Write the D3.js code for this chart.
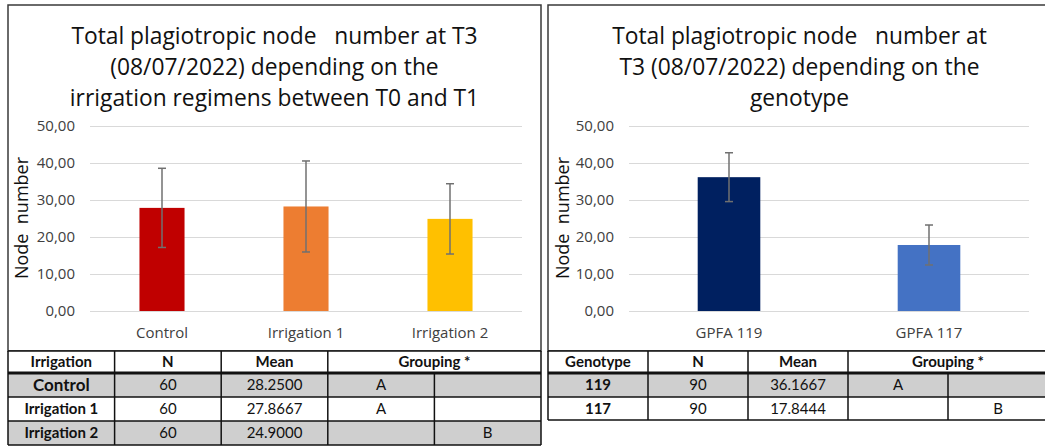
<!DOCTYPE html>
<html><head><meta charset="utf-8">
<script src="https://cdn.jsdelivr.net/npm/d3@7"></script>
<style>
html,body{margin:0;padding:0;background:#fff;}
svg text{white-space:pre;}
</style></head>
<body><svg id="c" width="1045" height="446"></svg>
<script>
// ---- DATA ----
const irrTitle = ["Total plagiotropic node   number at T3", "(08/07/2022) depending on the", "irrigation regimens between T0 and T1"];
const irrCategories = ["Control", "Irrigation 1", "Irrigation 2"];
const irrMeans = [27.87, 28.25, 24.90];
const irrErrors = [10.7, 12.3, 9.5];
const irrColors = ["#C00000", "#ED7D31", "#FFC000"];

const genoTitle = ["Total plagiotropic node   number at", "T3 (08/07/2022) depending on the", "genotype"];
const genoCategories = ["GPFA 119", "GPFA 117"];
const genoMeans = [36.17, 17.84];
const genoErrors = [6.6, 5.4];
const genoColors = ["#002060", "#4472C4"];

const yTicks = [0, 10, 20, 30, 40, 50];
const yAxisTitle = "Node  number";

const irrTableHeader = ["Irrigation", "N", "Mean", "Grouping *"];
const irrTableLabels = ["Control", "Irrigation 1", "Irrigation 2"];
const irrTableN = ["60", "60", "60"];
const irrTableMean = ["28.2500", "27.8667", "24.9000"];
const irrTableGroupA = ["A", "A", ""];
const irrTableGroupB = ["", "", "B"];

const genoTableHeader = ["Genotype", "N", "Mean", "Grouping *"];
const genoTableLabels = ["119", "117"];
const genoTableN = ["90", "90"];
const genoTableMean = ["36.1667", "17.8444"];
const genoTableGroupA = ["A", ""];
const genoTableGroupB = ["", "B"];

// ---- DRAW ----
const svg = d3.select("#c");
const chartFont = "'Open Sans', 'Noto Sans', sans-serif";
const tableFont = "Lato, 'Liberation Sans', sans-serif";
const fmt = v => d3.format(".2f")(v).replace(".", ",");

function chart(o) {
  const g = svg.append("g");
  g.append("rect").attr("x", o.fx0).attr("y", 5).attr("width", o.fx1 - o.fx0).attr("height", 346)
    .attr("fill", "#fff").attr("stroke", "#3a3a3a").attr("stroke-width", 1.5);
  const tcx = (o.fx0 + o.fx1) / 2;
  o.title.forEach((t, i) => {
    g.append("text").attr("x", tcx).attr("y", 44 + i * 31).attr("text-anchor", "middle")
      .attr("font-family", chartFont).attr("font-size", 22.8).attr("fill", "#111").text(t);
  });
  const y = d3.scaleLinear().domain([0, 50]).range([311, 126]);
  const x = d3.scaleBand().domain(o.cats).range([o.px0, o.px1]).paddingInner(0.687).paddingOuter(0.3435);
  // gridlines
  const yAx = d3.axisLeft(y).tickValues(yTicks).tickSize(-(o.px1 - o.px0)).tickPadding(15).tickFormat(fmt);
  const ag = g.append("g").attr("transform", `translate(${o.px0},0)`).call(yAx);
  ag.select(".domain").remove();
  ag.selectAll(".tick line").attr("stroke", "#d9d9d9").attr("stroke-width", 1);
  ag.selectAll(".tick text").attr("font-family", chartFont).attr("font-size", 15).attr("fill", "#404040");
  // bars
  g.selectAll(".bar").data(o.cats).join("rect")
    .attr("x", d => x(d)).attr("width", x.bandwidth())
    .attr("y", (d, i) => y(o.means[i])).attr("height", (d, i) => y(0) - y(o.means[i]))
    .attr("fill", (d, i) => o.colors[i]);
  // error bars
  o.cats.forEach((c, i) => {
    const cx = x(c) + x.bandwidth() / 2;
    const top = y(o.means[i] + o.errs[i]), bot = y(o.means[i] - o.errs[i]);
    const eg = g.append("g").attr("stroke", "#707070").attr("stroke-width", 1.5);
    eg.append("line").attr("x1", cx).attr("x2", cx).attr("y1", top).attr("y2", bot);
    eg.append("line").attr("x1", cx - 4).attr("x2", cx + 4).attr("y1", top).attr("y2", top);
    eg.append("line").attr("x1", cx - 4).attr("x2", cx + 4).attr("y1", bot).attr("y2", bot);
  });
  // x labels
  const xAx = d3.axisBottom(x).tickSize(0).tickPadding(0);
  const xg = g.append("g").attr("transform", `translate(0,311)`).call(xAx);
  xg.select(".domain").remove();
  xg.selectAll(".tick text").attr("dy", null).attr("y", 27).attr("font-family", chartFont)
    .attr("font-size", 15).attr("fill", "#404040");
  // y title
  g.append("text").attr("transform", `translate(${o.ytx},218) rotate(-90)`).attr("text-anchor", "middle")
    .attr("font-family", chartFont).attr("font-size", 18).attr("fill", "#111").text(yAxisTitle);
}

chart({fx0: 8, fx1: 541, px0: 90, px1: 522, ytx: 28, title: irrTitle, cats: irrCategories,
  means: irrMeans, errs: irrErrors, colors: irrColors});
chart({fx0: 548, fx1: 1051, px0: 629, px1: 1029, ytx: 569, title: genoTitle, cats: genoCategories,
  means: genoMeans, errs: genoErrors, colors: genoColors});

function table(o) {
  const g = svg.append("g");
  const cw = (o.x1 - o.x0) / 5;
  const cols = d3.range(6).map(i => o.x0 + i * cw);
  const rowsY = o.rowsY;
  // fills
  o.labels.forEach((l, i) => {
    g.append("rect").attr("x", o.x0).attr("y", rowsY[i + 1]).attr("width", o.x1 - o.x0)
      .attr("height", rowsY[i + 2] - rowsY[i + 1]).attr("fill", i % 2 === 0 ? "#cfcfcf" : "#fff");
  });
  g.append("rect").attr("x", o.x0).attr("y", rowsY[0]).attr("width", o.x1 - o.x0)
    .attr("height", rowsY[1] - rowsY[0]).attr("fill", "#fff");
  // lines
  rowsY.forEach((yy, i) => {
    g.append("line").attr("x1", o.x0).attr("x2", o.x1).attr("y1", yy).attr("y2", yy)
      .attr("stroke", "#111").attr("stroke-width", i === 1 ? 3 : 1.5);
  });
  cols.forEach((xx, i) => {
    g.append("line").attr("x1", xx).attr("x2", xx).attr("y1", i === 4 ? rowsY[1] : rowsY[0])
      .attr("y2", rowsY[rowsY.length - 1]).attr("stroke", "#111").attr("stroke-width", 1.5);
  });
  const mid = (a, b) => (a + b) / 2;
  const hy = mid(rowsY[0], rowsY[1]);
  const hx = [mid(cols[0], cols[1]), mid(cols[1], cols[2]), mid(cols[2], cols[3]), mid(cols[3], cols[5])];
  o.header.forEach((h, i) => {
    g.append("text").attr("x", hx[i]).attr("y", hy).attr("dy", "0.36em").attr("text-anchor", "middle")
      .attr("font-family", tableFont).attr("font-weight", "bold").attr("font-size", 15).attr("fill", "#111").text(h);
  });
  o.labels.forEach((l, i) => {
    const ry = mid(rowsY[i + 1], rowsY[i + 2]);
    const vals = [l, o.n[i], o.mean[i], o.ga[i], o.gb[i]];
    vals.forEach((v, j) => {
      g.append("text").attr("x", mid(cols[j], cols[j + 1])).attr("y", ry).attr("dy", "0.36em")
        .attr("text-anchor", "middle").attr("font-family", tableFont)
        .attr("font-weight", j === 0 ? "bold" : "normal")
        .attr("font-size", j === 0 ? (o.bigFirst && i === 0 ? 17 : 15) : 15)
        .attr("fill", "#111").text(v);
    });
  });
}

table({x0: 8, x1: 541, rowsY: [351, 373, 397, 421, 445], header: irrTableHeader, labels: irrTableLabels,
  n: irrTableN, mean: irrTableMean, ga: irrTableGroupA, gb: irrTableGroupB, bigFirst: true});
table({x0: 548, x1: 1048, rowsY: [351, 373, 397, 420], header: genoTableHeader, labels: genoTableLabels,
  n: genoTableN, mean: genoTableMean, ga: genoTableGroupA, gb: genoTableGroupB, bigFirst: false});
</script></body></html>
